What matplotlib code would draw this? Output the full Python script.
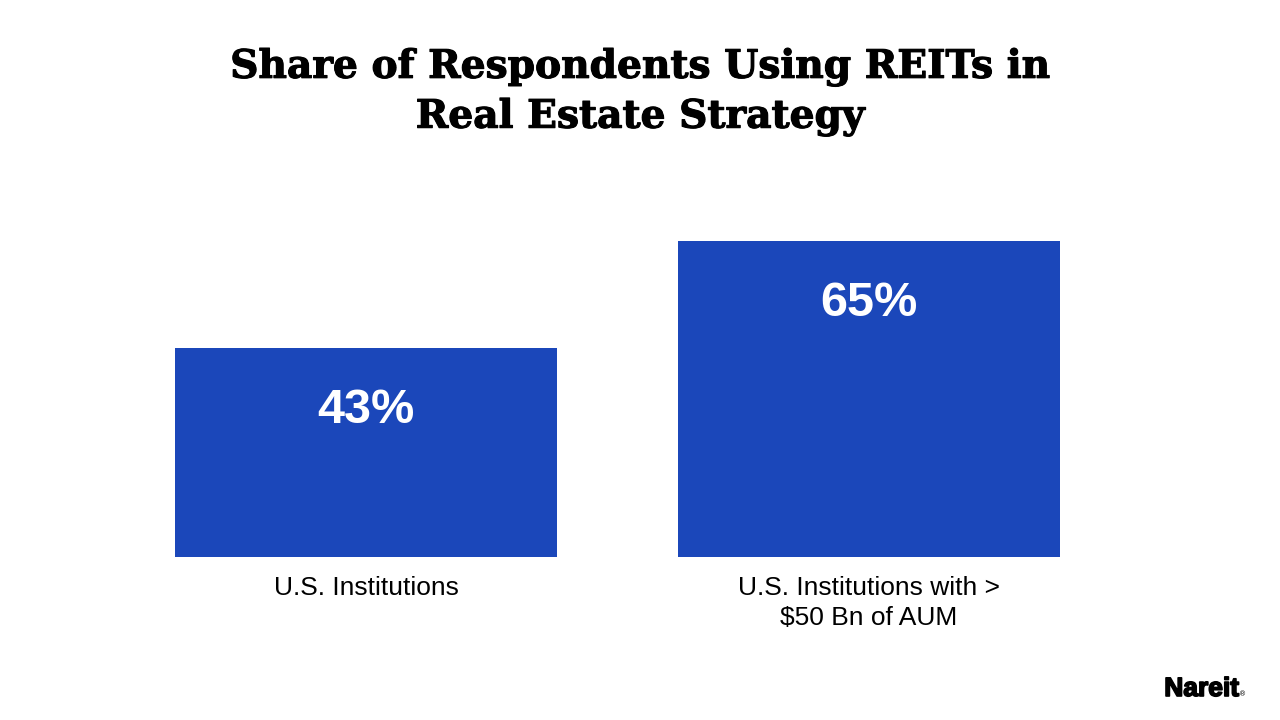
import matplotlib.pyplot as plt
import matplotlib.patheffects as pe

# Data
categories = ["U.S. Institutions", "U.S. Institutions with >\n$50 Bn of AUM"]
shares = [43, 65]
value_labels = ["43%", "65%"]

BAR_COLOR = "#1B47BA"

fig = plt.figure(figsize=(12.8, 7.2), dpi=100)
ax = fig.add_axes([175 / 1280, 163 / 720, 885 / 1280, 340 / 720])

x = list(range(len(categories)))
ax.bar(x, shares, width=0.76, color=BAR_COLOR)
ax.set_xlim(-0.38, 1.38)
ax.set_ylim(0, 70)

# Value labels inside the bars, near the top
for xi, val, lab in zip(x, shares, value_labels):
    ax.annotate(lab, (xi, val), xytext=(0, -62), textcoords="offset pixels",
                ha="center", va="center", color="white", fontsize=35,
                fontweight="bold", family="Liberation Sans")

# Category labels below the bars
for xi, cat in zip(x, categories):
    ax.annotate(cat, (xi, 0), xytext=(0, -19), textcoords="offset pixels",
                ha="center", va="top", color="black", fontsize=19,
                family="Liberation Sans", linespacing=1.3)

ax.axis("off")

fig.text(0.5, 1 - 92 / 720, "Share of Respondents Using REITs in\nReal Estate Strategy",
         ha="center", va="center", fontsize=28.2, fontweight="bold",
         family="DejaVu Serif", linespacing=1.38,
         path_effects=[pe.withStroke(linewidth=0.8, foreground="black")])

# Logo
fig.text(1239 / 1280, 1 - 689 / 720, "Nareit", ha="right", va="center",
         fontsize=19, fontweight="bold", family="Liberation Sans",
         path_effects=[pe.withStroke(linewidth=1.2, foreground="black")])
fig.text(1246 / 1280, 1 - 694 / 720, "®", ha="right", va="center", fontsize=5,
         family="DejaVu Sans")

fig.savefig("out.png", dpi=100)
